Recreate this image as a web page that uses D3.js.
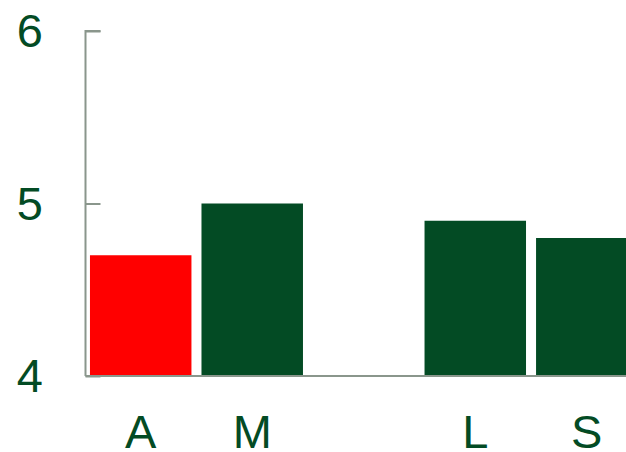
<!DOCTYPE html>
<html>
<head>
<meta charset="utf-8">
<script src="https://cdn.jsdelivr.net/npm/d3@7"></script>
<style>
  body { margin: 0; background: #fff; }
  svg { display: block; }
</style>
</head>
<body>
<div id="chart"></div>
<script>
// Chart data
const categories = ['A', 'M', '', 'L', 'S'];
const values = [4.7, 5.0, null, 4.9, 4.8];
const highlight = ['A'];
const yTicks = [4, 5, 6];

const width = 626;
const height = 452;
const green = '#034b24';
const axisColor = '#8a968c';

const svg = d3.select('#chart')
  .append('svg')
  .attr('width', width)
  .attr('height', height);

// Scales
const xScale = d3.scaleBand()
  .domain(categories.map((d, i) => i))
  .range([85.5, 642])
  .paddingInner(0.09)
  .paddingOuter(0.04);

const yScale = d3.scaleLinear()
  .domain([4, 6])
  .range([376, 31]);

// Bars
const bars = categories.map((c, i) => ({ c, i, v: values[i] })).filter(d => d.v != null);

svg.selectAll('rect.bar')
  .data(bars)
  .join('rect')
  .attr('class', 'bar')
  .attr('x', d => xScale(d.i))
  .attr('y', d => yScale(d.v))
  .attr('width', xScale.bandwidth())
  .attr('height', d => yScale(4) - yScale(d.v))
  .attr('fill', d => highlight.includes(d.c) ? '#ff0000' : green);

// Y axis (ticks pointing inward)
const yAxis = svg.append('g')
  .attr('transform', 'translate(85.5,0)')
  .call(d3.axisRight(yScale).tickValues(yTicks).tickSize(15).tickFormat(''));
yAxis.select('.domain').attr('stroke', axisColor).attr('stroke-width', 2)
  .attr('d', `M15,${yScale(6)}H0V${yScale(4)}`);
yAxis.selectAll('.tick line').attr('stroke', axisColor).attr('stroke-width', 2);

// Y tick labels
svg.selectAll('text.ylab')
  .data(yTicks)
  .join('text')
  .attr('class', 'ylab')
  .attr('x', 43)
  .attr('y', d => yScale(d))
  .attr('dy', '0.35em')
  .attr('text-anchor', 'end')
  .attr('fill', green)
  .style('font-family', 'Liberation Sans, Arial, sans-serif')
  .style('font-size', '47px')
  .text(d => d);

// X axis baseline
svg.append('line')
  .attr('x1', 85.5)
  .attr('x2', width)
  .attr('y1', 376)
  .attr('y2', 376)
  .attr('stroke', axisColor)
  .attr('stroke-width', 2);

// X labels
svg.selectAll('text.xlab')
  .data(categories.map((c, i) => ({ c, i })))
  .join('text')
  .attr('class', 'xlab')
  .attr('x', d => xScale(d.i) + xScale.bandwidth() / 2)
  .attr('y', 448)
  .attr('text-anchor', 'middle')
  .attr('fill', green)
  .style('font-family', 'Liberation Sans, Arial, sans-serif')
  .style('font-size', '47px')
  .text(d => d.c);
</script>
</body>
</html>
